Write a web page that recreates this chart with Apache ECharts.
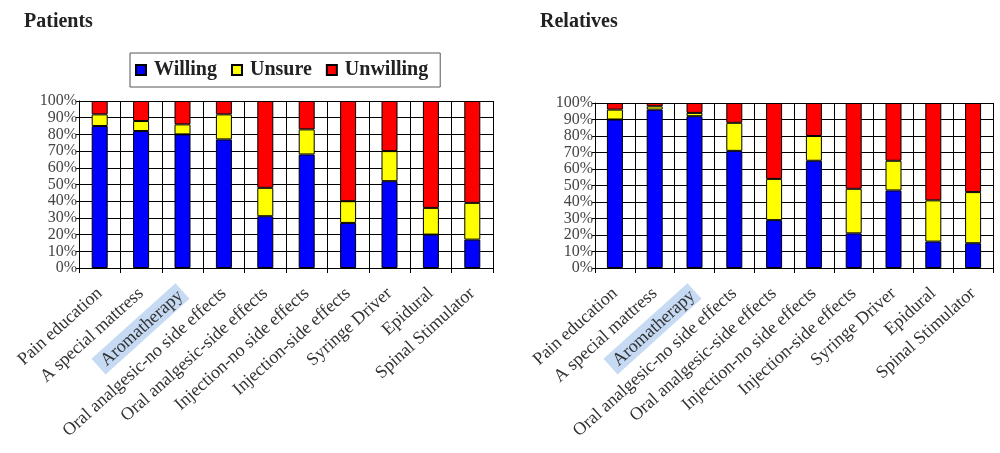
<!DOCTYPE html>
<html><head><meta charset="utf-8">
<script src="https://cdn.jsdelivr.net/npm/echarts@6/dist/echarts.min.js"></script>
<style>html,body{margin:0;padding:0;background:#fff}#c{width:1000px;height:453px}</style>
</head><body><div id="c"></div>
<script>
const categories = ["Pain education","A special mattress","Aromatherapy","Oral analgesic-no side effects","Oral analgesic-side effects","Injection-no side effects","Injection-side effects","Syringe Driver","Epidural","Spinal Stimulator"];
const yTicks = ["0%","10%","20%","30%","40%","50%","60%","70%","80%","90%","100%"];
const patientsWilling   = [85, 82, 80, 77, 31, 68, 27, 52, 20, 17];
const patientsUnsure    = [7, 6, 6, 15, 17, 15, 13, 18, 16, 22];
const patientsUnwilling = [8, 12, 14, 8, 52, 17, 60, 30, 64, 61];
const relativesWilling   = [90, 96, 92, 71, 29, 65, 21, 47, 16, 15];
const relativesUnsure    = [6, 2, 2, 17, 25, 15, 27, 18, 25, 31];
const relativesUnwilling = [4, 2, 6, 12, 46, 20, 52, 35, 59, 54];

const serif = "'Liberation Serif','DejaVu Serif',serif";
const colors = {Willing:'#0000ff', Unsure:'#ffff00', Unwilling:'#ff0000'};

function xAxis(gi){
  return {
    type:'category', gridIndex:gi, data:categories,
    boundaryGap:true,
    axisLine:{lineStyle:{color:'#000',width:1}},
    axisTick:{show:true,length:5,lineStyle:{color:'#000'}},
    splitLine:{show:true,lineStyle:{color:'#000',width:1}},
    axisLabel:{
      interval:0, rotate:42, margin:23, color:'#333',
      fontFamily:serif, fontSize:18,
      formatter:function(v){ return v==='Aromatherapy' ? '{h|'+v+'}' : v; },
      rich:{h:{backgroundColor:'#c6daf4', padding:[2,3,1,6], fontFamily:serif, fontSize:18, color:'#333'}}
    }
  };
}
function yAxis(gi){
  return {
    type:'value', gridIndex:gi, min:0, max:100, interval:10,
    axisLine:{show:true,lineStyle:{color:'#000'}},
    axisTick:{show:true,length:3,lineStyle:{color:'#000'}},
    splitLine:{show:true,lineStyle:{color:'#000',width:1}},
    axisLabel:{formatter:function(v){return yTicks[Math.round(v/10)];}, color:'#444', fontFamily:serif, fontSize:16, margin:2}
  };
}
function bar(name, data, gi){
  return {
    name:name, type:'bar', stack:'s'+gi, xAxisIndex:gi, yAxisIndex:gi, data:data,
    barWidth:16,
    itemStyle:{color:colors[name], borderColor:'#000', borderWidth:1},
    emphasis:{disabled:true}
  };
}

const chart = echarts.init(document.getElementById('c'));
chart.setOption({
  animation:false,
  backgroundColor:'#fff',
  title:[
    {text:'Patients', left:19, top:7, textStyle:{fontFamily:serif, fontWeight:'bold', fontSize:20, color:'#222'}},
    {text:'Relatives', left:535, top:7, textStyle:{fontFamily:serif, fontWeight:'bold', fontSize:20, color:'#222'}}
  ],
  legend:{
    left:130, top:53,
    data:['Willing','Unsure','Unwilling'],
    itemWidth:10, itemHeight:10, itemGap:14,
    icon:'rect',
    borderColor:'#555', borderWidth:1, padding:[7,12,7,5],
    textStyle:{fontFamily:serif, fontWeight:'bold', fontSize:20, color:'#222', padding:[0,0,0,3]}
  },
  grid:[
    {left:79, right:507, top:101, bottom:185},
    {left:595, right:7, top:103, bottom:185}
  ],
  xAxis:[xAxis(0), xAxis(1)],
  yAxis:[yAxis(0), yAxis(1)],
  series:[
    bar('Willing', patientsWilling, 0),
    bar('Unsure', patientsUnsure, 0),
    bar('Unwilling', patientsUnwilling, 0),
    bar('Willing', relativesWilling, 1),
    bar('Unsure', relativesUnsure, 1),
    bar('Unwilling', relativesUnwilling, 1)
  ]
});
</script></body></html>
